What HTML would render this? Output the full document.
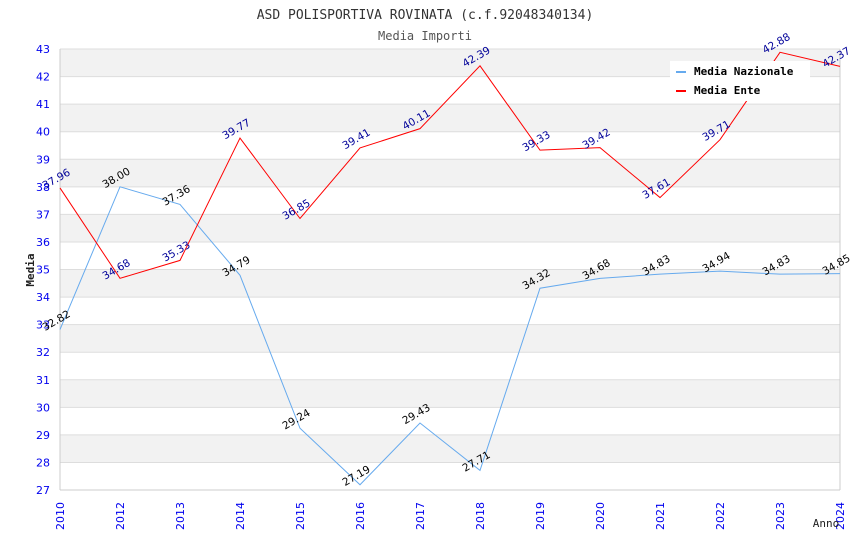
<!DOCTYPE html>
<html><head><meta charset="utf-8"><style>
body{margin:0;background:#fff;}
svg{display:block;font-family:"DejaVu Sans Mono","Liberation Mono",monospace;}
.s{font-family:"DejaVu Sans","Liberation Sans",sans-serif;}
</style></head><body>
<svg id="c" width="850" height="550">
<text x="425" y="19" text-anchor="middle" font-size="13" fill="#333">ASD POLISPORTIVA ROVINATA (c.f.92048340134)</text>
<text x="425" y="40" text-anchor="middle" font-size="12" fill="#555">Media Importi</text>
<g id="grid"></g><g id="axes"></g><g id="series"></g>
<text x="34" y="270" transform="rotate(-90 34 270)" text-anchor="middle" font-size="11" font-weight="bold" fill="#222">Media</text>
<text x="826" y="527" text-anchor="middle" font-size="11" fill="#222">Anno</text>
<g>
<rect x="670" y="61" width="140" height="40" fill="#fff"/>
<g><rect x="676" y="71" width="10" height="2" fill="#66aaee"/><text x="694" y="75" font-size="11" font-weight="bold" fill="#000">Media Nazionale</text></g>
<g><rect x="676" y="90" width="10" height="2" fill="#ff0000"/><text x="694" y="94" font-size="11" font-weight="bold" fill="#000">Media Ente</text></g>
</g>
</svg>
<script>
const categories=["2010","2012","2013","2014","2015","2016","2017","2018","2019","2020","2021","2022","2023","2024"];
const nazionale=[32.82,38.00,37.36,34.79,29.24,27.19,29.43,27.71,34.32,34.68,34.83,34.94,34.83,34.85];
const ente=[37.96,34.68,35.33,39.77,36.85,39.41,40.11,42.39,39.33,39.42,37.61,39.71,42.88,42.37];
const yTicks=[27,28,29,30,31,32,33,34,35,36,37,38,39,40,41,42,43];
const NS="http://www.w3.org/2000/svg";
const X0=60,X1=840,Y0=490,Y1=49,YMIN=27,YMAX=43;
const xs=i=>X0+i*(X1-X0)/(categories.length-1);
const ys=v=>Y0-(v-YMIN)*(Y0-Y1)/(YMAX-YMIN);
function mk(t,a,p){const e=document.createElementNS(NS,t);for(const k in a)e.setAttribute(k,a[k]);p.appendChild(e);return e;}
const grid=document.getElementById('grid'),axes=document.getElementById('axes'),ser=document.getElementById('series');
for(let i=0;i<yTicks.length-1;i++){
  if((yTicks[i]%2)===0){const r=mk('rect',{x:X0,y:ys(yTicks[i+1]),width:X1-X0,height:ys(yTicks[i])-ys(yTicks[i+1]),fill:'#f2f2f2'},grid);
  
  }
}
yTicks.forEach(v=>{
  const l=mk('line',{x1:X0,x2:X1,y1:ys(v),y2:ys(v),stroke:'#dddddd'},grid);
  
  
  const t=mk('text',{x:X0-10,y:ys(v)+4,'text-anchor':'end','font-size':11,fill:'#0000ee',class:'s'},axes);
  t.textContent=v;
  
  
});
mk('line',{x1:X0,x2:X0,y1:Y1,y2:Y0,stroke:'#ccc'},axes);
mk('line',{x1:X0,x2:X1,y1:Y0,y2:Y0,stroke:'#ccc'},axes);
mk('line',{x1:X1,x2:X1,y1:Y1,y2:Y0,stroke:'#ccc'},axes);
categories.forEach((c,i)=>{
  const t=mk('text',{x:xs(i)+4,y:502,'text-anchor':'end','font-size':11,fill:'#0000ee',class:'s',transform:`rotate(-90 ${xs(i)+4} 502)`},axes);
  t.textContent=c;
  
  
});
function draw(data,color,lblColor,name){
  const p=mk('polyline',{points:data.map((v,i)=>xs(i)+','+ys(v)).join(' '),fill:'none',stroke:color,'stroke-width':1},ser);
  
  
  data.forEach((v,i)=>{
    const x=xs(i)-2,y=ys(v)-6;
    const t=mk('text',{x:x,y:y,'text-anchor':'middle','font-size':10.5,fill:lblColor,class:'s',transform:`rotate(-30 ${x} ${y})`},ser);
    t.textContent=v.toFixed(2);
    
    
  });
}
draw(nazionale,'#66aaee','#000','nazionale');
draw(ente,'#ff0000','#000099','ente');
</script>
</body></html>
